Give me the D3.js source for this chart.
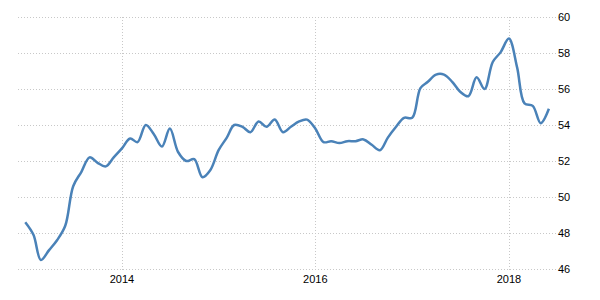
<!DOCTYPE html>
<html>
<head>
<meta charset="utf-8">
<script src="https://cdn.jsdelivr.net/npm/d3@7"></script>
<style>
  body { margin: 0; background: #fff; }
  text { font-family: "Liberation Sans", Arial, sans-serif; font-size: 11px; fill: #000; }
</style>
</head>
<body>
<div id="app"></div>
<script>
// monthly values, Jan 2013 .. Jun 2018
const startYear = 2013;
const values = [
  48.6, 47.9, 46.5, 47.05, 47.6, 48.4, 50.6, 51.4, 52.2, 51.9, 51.7, 52.2,
  52.7, 53.25, 53.05, 54.0, 53.5, 52.8, 53.8, 52.5, 52.0, 52.1, 51.1, 51.5,
  52.6, 53.3, 54.0, 53.9, 53.6, 54.2, 53.9, 54.3, 53.6, 53.9, 54.2, 54.3,
  53.8, 53.05, 53.1, 53.0, 53.1, 53.1, 53.2, 52.9, 52.6, 53.3, 53.9, 54.4,
  54.4, 56.05, 56.4, 56.8, 56.8, 56.4, 55.85, 55.6, 56.65, 56.0, 57.5, 58.05,
  58.8, 57.2, 55.2, 55.06, 54.1, 54.9
];
const yTicks = [46, 48, 50, 52, 54, 56, 58, 60];
const xTickYears = [2014, 2016, 2018];

const width = 600, height = 300;
const plotLeft = 18, plotRight = 556, plotTop = 17, plotBottom = 269;

const data = values.map((v, i) => ({ date: new Date(startYear, i, 1), value: v }));

const x = d3.scaleTime()
  .domain([new Date(2013, 0, 1), new Date(2018, 0, 1)])
  .range([25.25, 508.9]);

const y = d3.scaleLinear()
  .domain([46, 60])
  .range([plotBottom, plotTop]);

const svg = d3.select('#app')
  .append('svg')
  .attr('width', width)
  .attr('height', height);

// horizontal grid
svg.selectAll('line.hgrid')
  .data(yTicks)
  .enter()
  .append('line')
  .attr('class', 'hgrid')
  .attr('x1', plotLeft)
  .attr('x2', plotRight)
  .attr('y1', d => Math.round(y(d)) + 0.5)
  .attr('y2', d => Math.round(y(d)) + 0.5)
  .attr('stroke', '#c8c8c8')
  .attr('stroke-width', 1)
  .attr('stroke-dasharray', '1,2');

// vertical grid
svg.selectAll('line.vgrid')
  .data(xTickYears)
  .enter()
  .append('line')
  .attr('class', 'vgrid')
  .attr('x1', d => Math.round(x(new Date(d, 0, 1))) + 0.5)
  .attr('x2', d => Math.round(x(new Date(d, 0, 1))) + 0.5)
  .attr('y1', plotTop)
  .attr('y2', plotBottom + 3)
  .attr('stroke', '#c8c8c8')
  .attr('stroke-width', 1)
  .attr('stroke-dasharray', '1,2');

// y labels on the right
svg.selectAll('text.ylab')
  .data(yTicks)
  .enter()
  .append('text')
  .attr('class', 'ylab')
  .attr('x', 558)
  .attr('y', d => y(d) + 4)
  .text(d => d);

// x labels
svg.selectAll('text.xlab')
  .data(xTickYears)
  .enter()
  .append('text')
  .attr('class', 'xlab')
  .attr('x', d => x(new Date(d, 0, 1)))
  .attr('y', 283)
  .attr('text-anchor', 'middle')
  .text(d => d);

const line = d3.line()
  .x(d => x(d.date))
  .y(d => y(d.value))
  .curve(d3.curveCatmullRom.alpha(0.5));

svg.append('path')
  .datum(data)
  .attr('d', line)
  .attr('fill', 'none')
  .attr('stroke', '#4a82b8')
  .attr('stroke-width', 2.5)
  .attr('stroke-linejoin', 'round');
</script>
</body>
</html>
